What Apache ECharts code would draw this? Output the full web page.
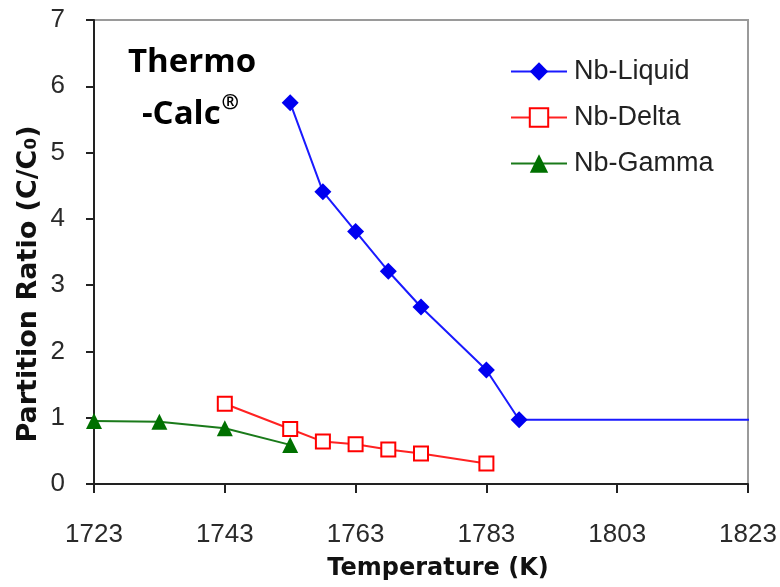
<!DOCTYPE html>
<html>
<head>
<meta charset="utf-8">
<script src="https://cdn.jsdelivr.net/npm/echarts@6/dist/echarts.min.js"></script>
<style>html,body{margin:0;padding:0;background:#fff}#c{width:780px;height:587px}</style>
</head>
<body>
<div id="c"></div>
<script>
// Data
const liquidT = [1753, 1758, 1763, 1768, 1773, 1783, 1788, 1824];
const liquidR = [5.75, 4.41, 3.81, 3.21, 2.67, 1.72, 0.97, 0.97];
const deltaT  = [1743, 1753, 1758, 1763, 1768, 1773, 1783];
const deltaR  = [1.21, 0.83, 0.64, 0.60, 0.52, 0.46, 0.31];
const gammaT  = [1723, 1733, 1743, 1753];
const gammaR  = [0.95, 0.94, 0.84, 0.59];
const xTicks  = [1723, 1743, 1763, 1783, 1803, 1823];
const seriesNames = ['Nb-Liquid', 'Nb-Delta', 'Nb-Gamma'];

const chart = echarts.init(document.getElementById('c'), null, {renderer: 'canvas'});
const zip = (a, b) => a.map((v, i) => [v, b[i]]);
const liquidData = zip(liquidT, liquidR).map((p, i) =>
  i === liquidT.length - 1 ? {value: p, symbol: 'none'} : p);

const tickFont = {fontFamily: 'Liberation Sans', fontSize: 26, color: '#2a2a2a'};

// measure "-Calc" to place the registered mark right after it
const cv = document.createElement('canvas').getContext('2d');
cv.font = 'bold 33px "Open Sans"';
const calcW = cv.measureText('-Calc').width;
const calcX = 142;

chart.setOption({
  animation: false,
  backgroundColor: '#fff',
  grid: {left: 94, right: 32, top: 20, bottom: 103, show: true, borderColor: '#9a9a9a', borderWidth: 2, backgroundColor: 'transparent'},
  xAxis: {
    type: 'value', min: 1723, max: 1823,
    axisLine: {show: true, onZero: false, lineStyle: {color: '#222', width: 2}},
    axisTick: {show: true, length: 9, lineStyle: {color: '#222', width: 2}, customValues: xTicks},
    axisLabel: Object.assign({margin: 38, customValues: xTicks, formatter: v => String(v)}, tickFont),
    splitLine: {show: false}
  },
  yAxis: {
    type: 'value', min: 0, max: 7, interval: 1,
    axisLine: {show: true, lineStyle: {color: '#222', width: 2}},
    axisTick: {show: true, length: 8, lineStyle: {color: '#222', width: 2}},
    axisLabel: Object.assign({margin: 29}, tickFont),
    splitLine: {show: false}
  },
  legend: {
    orient: 'vertical', left: 505, top: 53,
    itemWidth: 56, itemHeight: 23, itemGap: 19,
    data: seriesNames,
    textStyle: {fontFamily: 'Liberation Sans', fontSize: 27, color: '#222', padding: [0, 0, 0, 2]}
  },
  series: [
    {
      name: seriesNames[0], type: 'line', data: liquidData, clip: false,
      symbol: 'diamond', symbolSize: 17,
      lineStyle: {color: '#1a1aff', width: 2},
      itemStyle: {color: '#0000f0'}
    },
    {
      name: seriesNames[1], type: 'line', data: zip(deltaT, deltaR),
      symbol: 'emptyRect', symbolSize: 14,
      lineStyle: {color: '#f22', width: 2},
      itemStyle: {color: '#f00', borderWidth: 2}
    },
    {
      name: seriesNames[2], type: 'line', data: zip(gammaT, gammaR),
      symbol: 'triangle', symbolSize: 16,
      lineStyle: {color: '#1a7a1a', width: 2},
      itemStyle: {color: '#007000'}
    }
  ],
  graphic: [
    {type: 'text', x: 192, y: 63, style: {text: 'Thermo', fontFamily: 'Open Sans', fontWeight: 'bold', fontSize: 33, fill: '#000', align: 'center', verticalAlign: 'middle'}},
    {type: 'text', x: calcX, y: 115, style: {text: '-Calc', fontFamily: 'Open Sans', fontWeight: 'bold', fontSize: 33, fill: '#000', align: 'left', verticalAlign: 'middle'}},
    {type: 'text', x: calcX + calcW + 1, y: 103, style: {text: '®', fontFamily: 'Open Sans', fontWeight: 'bold', fontSize: 21, fill: '#000', align: 'left', verticalAlign: 'middle'}},
    {type: 'text', x: 438, y: 569, style: {text: 'Temperature (K)', fontFamily: 'DejaVu Sans', fontWeight: 'bold', fontSize: 24, fill: '#111', align: 'center', verticalAlign: 'middle'}},
    {type: 'text', x: 29, y: 284, rotation: Math.PI / 2, style: {text: 'Partition Ratio (C/C₀)', fontFamily: 'DejaVu Sans', fontWeight: 'bold', fontSize: 27, fill: '#111', align: 'center', verticalAlign: 'middle'}}
  ]
});
</script>
</body>
</html>
